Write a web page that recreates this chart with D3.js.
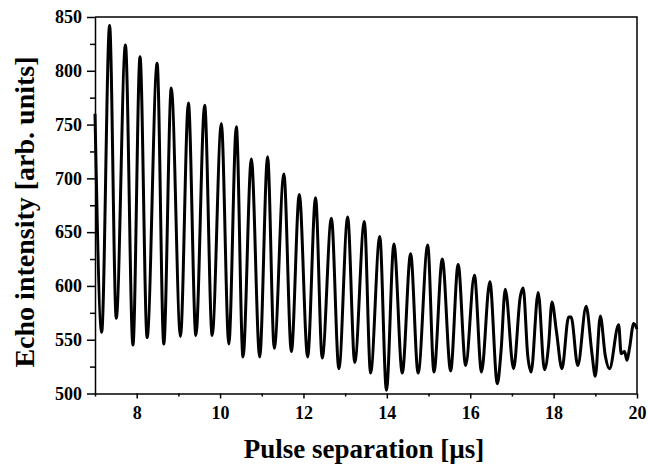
<!DOCTYPE html>
<html lang="en">
<head>
  <meta charset="utf-8">
  <title>Echo intensity vs pulse separation</title>
  <style>
    body { margin: 0; background: #fff; }
    svg { display: block; font-family: "Liberation Serif", "Times New Roman", serif; font-weight: bold; }
    .axis path, .axis line { stroke: #000; stroke-width: 1.5px; }
    .axis text { font-family: "Liberation Serif", serif; font-weight: bold; fill: #000; }
  </style>
</head>
<body>
  <div id="chart"></div>

  <script src="https://d3js.org/d3.v7.min.js"></script>
  <script>
// pulse separation in µs (peaks, troughs and a few kinks)
const separation = [
  7.00, 7.16, 7.35, 7.51, 7.73, 7.91, 8.08, 8.25, 8.49, 8.65,
  8.83, 9.05, 9.24, 9.42, 9.63, 9.81, 10.03, 10.21, 10.39, 10.55,
  10.75, 10.95, 11.14, 11.30, 11.53, 11.71, 11.90, 12.10, 12.29, 12.45,
  12.67, 12.85, 13.06, 13.23, 13.46, 13.61, 13.83, 13.99, 14.17, 14.37,
  14.57, 14.75, 14.98, 15.13, 15.33, 15.53, 15.71, 15.89, 16.10, 16.27,
  16.47, 16.65, 16.74, 16.84, 17.04, 17.20, 17.27, 17.38, 17.46, 17.63,
  17.78, 17.88, 17.96, 18.07, 18.20, 18.36, 18.42, 18.58, 18.78, 18.92,
  19.00, 19.12, 19.24, 19.34, 19.56, 19.62, 19.70, 19.76, 19.82, 19.92,
  20.00
];
// echo intensity, arb. units
const intensity = [
  760, 557, 842, 570, 824, 545, 813, 552, 807, 546,
  784, 553, 770, 554, 768, 554, 751, 546, 748, 534,
  718, 534, 720, 542, 704, 539, 685, 534, 682, 533,
  663, 523, 664, 529, 660, 519, 646, 503, 639, 519,
  630, 519, 638, 520, 625, 521, 620, 526, 610, 520,
  604, 509, 540, 597, 523, 590, 598, 535, 520, 594,
  522, 545, 585, 557, 523, 571, 571, 526, 581, 537,
  516, 572, 535, 523, 564, 537, 539, 531, 542, 565,
  560
];
const xMajorTicks = [8, 10, 12, 14, 16, 18, 20];
const xMinorTicks = [7, 9, 11, 13, 15, 17, 19];
const yMajorTicks = [500, 550, 600, 650, 700, 750, 800, 850];
const yMinorTicks = [525, 575, 625, 675, 725, 775, 825];

const width = 648, height = 466;
const plot = { left: 95, right: 637, top: 17, bottom: 393.5 };

const svg = d3.select("#chart").append("svg")
    .attr("width", width)
    .attr("height", height);

const x = d3.scaleLinear().domain([7, 20]).range([plot.left, plot.right]);
const y = d3.scaleLinear().domain([500, 850]).range([plot.bottom, plot.top]);

// frame on top and right
svg.append("path")
    .attr("d", `M${plot.left},${plot.top}H${plot.right}V${plot.bottom}`)
    .attr("fill", "none")
    .attr("stroke", "#000")
    .attr("stroke-width", 1.5);

// bottom axis, minor then major
svg.append("g").attr("class", "axis")
    .attr("transform", `translate(0,${plot.bottom})`)
    .call(d3.axisBottom(x).tickValues(xMinorTicks).tickSize(3).tickFormat(""))
    .call(g => g.select(".domain").remove());
svg.append("g").attr("class", "axis")
    .attr("transform", `translate(0,${plot.bottom})`)
    .call(d3.axisBottom(x).tickValues(xMajorTicks).tickSize(5).tickSizeOuter(0).tickPadding(8))
    .call(g => g.selectAll("text").style("font-size", "18px"));

// left axis, minor then major
svg.append("g").attr("class", "axis")
    .attr("transform", `translate(${plot.left},0)`)
    .call(d3.axisLeft(y).tickValues(yMinorTicks).tickSize(5).tickFormat(""))
    .call(g => g.select(".domain").remove());
svg.append("g").attr("class", "axis")
    .attr("transform", `translate(${plot.left},0)`)
    .call(d3.axisLeft(y).tickValues(yMajorTicks).tickSize(8).tickSizeOuter(0).tickPadding(5))
    .call(g => g.selectAll("text").style("font-size", "18px"));

// signal
const line = d3.line()
    .x((d, i) => x(separation[i]))
    .y(d => y(d))
    .curve(d3.curveMonotoneX);

svg.append("path")
    .datum(intensity)
    .attr("d", line)
    .attr("fill", "none")
    .attr("stroke", "#000")
    .attr("stroke-width", 3)
    .attr("stroke-linejoin", "round");

// axis titles
svg.append("text")
    .attr("x", 364)
    .attr("y", 458)
    .attr("text-anchor", "middle")
    .style("font-size", "27px")
    .text("Pulse separation [µs]");

svg.append("text")
    .attr("transform", "translate(34,212) rotate(-90)")
    .attr("text-anchor", "middle")
    .style("font-size", "28px")
    .text("Echo intensity [arb. units]");
  </script>
</body>
</html>
